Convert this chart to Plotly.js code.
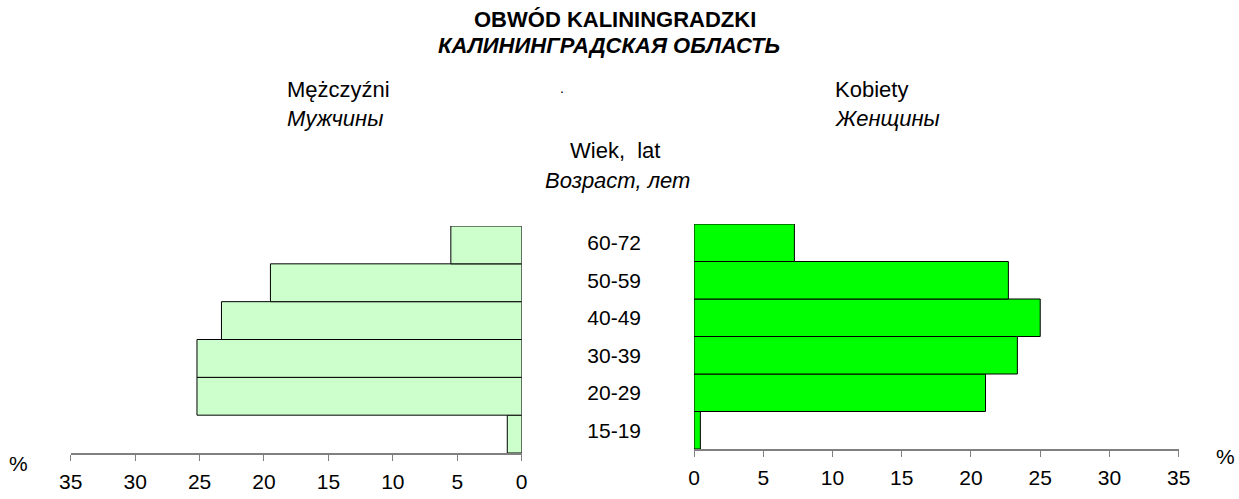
<!DOCTYPE html>
<html>
<head>
<meta charset="utf-8">
<script src="https://cdn.plot.ly/plotly-3.0.1.min.js"></script>
<style>html,body{margin:0;padding:0;background:#fff;}#chart{width:1239px;height:499px;}</style>
</head>
<body>
<div id="chart"></div>
<script>
const ageGroups = ['15-19', '20-29', '30-39', '40-49', '50-59', '60-72'];
const menPct = [1.12, 25.2, 25.2, 23.3, 19.5, 5.5];
const womenPct = [0.46, 21.05, 23.35, 25.0, 22.7, 7.25];
const xTickVals = [0, 5, 10, 15, 20, 25, 30, 35];

const titleLine1 = 'OBWÓD KALININGRADZKI';
const titleLine2 = 'КАЛИНИНГРАДСКАЯ ОБЛАСТЬ';
const menLabelPl = 'Mężczyźni';
const menLabelRu = 'Мужчины';
const womenLabelPl = 'Kobiety';
const womenLabelRu = 'Женщины';
const ageLabelPl = 'Wiek,  lat';
const ageLabelRu = 'Возраст, лет';

const FONT = 'Liberation Sans, Arial, sans-serif';
const W = 1239, H = 499;
const px = v => v / W;
const py = v => 1 - v / H;

const traces = [
  {
    type: 'bar', orientation: 'h', x: menPct, y: ageGroups,
    xaxis: 'x', yaxis: 'y',
    marker: {color: '#CCFFCC', line: {color: '#000000', width: 1}},
    hoverinfo: 'x+y'
  },
  {
    type: 'bar', orientation: 'h', x: womenPct, y: ageGroups,
    xaxis: 'x2', yaxis: 'y2',
    marker: {color: '#00FF00', line: {color: '#000000', width: 1}},
    hoverinfo: 'x+y'
  }
];

const xCommon = {
  tickvals: xTickVals, ticktext: xTickVals.map(String),
  ticks: 'outside', ticklen: 6, tickwidth: 1, tickcolor: '#808080',
  showline: true, linecolor: '#808080', linewidth: 1.5,
  showgrid: false, zeroline: false, ticklabelstandoff: 3,
  tickfont: {family: FONT, size: 21, color: '#000'},
  fixedrange: true
};

const layout = {
  width: W, height: H,
  margin: {l: 0, r: 0, t: 0, b: 0},
  paper_bgcolor: '#fff', plot_bgcolor: 'rgba(0,0,0,0)',
  showlegend: false, bargap: 0,
  font: {family: FONT, color: '#000'},
  xaxis: Object.assign({}, xCommon, {domain: [px(70.7), px(521.7)], range: [35, 0], anchor: 'y'}),
  yaxis: {
    domain: [py(453), py(226)], type: 'category', categoryorder: 'array', categoryarray: ageGroups,
    range: [-0.5, 5.5], showticklabels: false, showgrid: false, zeroline: false, showline: false, ticks: '', anchor: 'x'
  },
  xaxis2: Object.assign({}, xCommon, {domain: [px(694), px(1178.7)], range: [0, 35], anchor: 'y2'}),
  yaxis2: {
    domain: [py(449), py(224)], type: 'category', categoryorder: 'array', categoryarray: ageGroups,
    range: [-0.5, 5.5], showticklabels: true, showgrid: false, zeroline: false, showline: false, ticks: '',
    ticklabelstandoff: 52, tickfont: {family: FONT, size: 21, color: '#000'}, anchor: 'x2'
  },
  annotations: [
    {text: '<b>' + titleLine1 + '</b>', x: px(615), y: py(19), font: {size: 22}},
    {text: '<b><i>' + titleLine2 + '</i></b>', x: px(609), y: py(45.5), font: {size: 22}},
    {text: menLabelPl, x: px(285), y: py(90), xanchor: 'left', font: {size: 22}},
    {text: '<i>' + menLabelRu + '</i>', x: px(285), y: py(118), xanchor: 'left', font: {size: 22}},
    {text: '.', x: px(562), y: py(88), font: {size: 14}},
    {text: womenLabelPl, x: px(833), y: py(90), xanchor: 'left', font: {size: 22}},
    {text: '<i>' + womenLabelRu + '</i>', x: px(833), y: py(118), xanchor: 'left', font: {size: 22}},
    {text: ageLabelPl, x: px(615), y: py(151), font: {size: 22}},
    {text: '<i>' + ageLabelRu + '</i>', x: px(617), y: py(180), font: {size: 22}},
    {text: '%', x: px(18), y: py(463), font: {size: 21}},
    {text: '%', x: px(1225), y: py(456), font: {size: 21}}
  ].map(a => Object.assign({xref: 'paper', yref: 'paper', showarrow: false, xanchor: 'center', yanchor: 'middle'}, a, {font: Object.assign({family: FONT, color: '#000'}, a.font)}))
};

Plotly.newPlot('chart', traces, layout, {displayModeBar: false, staticPlot: true});
</script>
</body>
</html>
